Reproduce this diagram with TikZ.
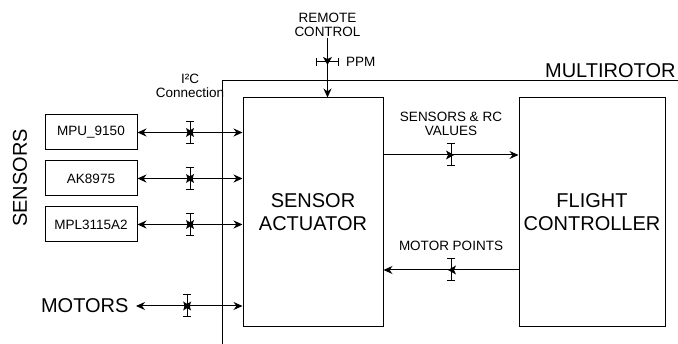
\documentclass[tikz,border=0pt]{standalone}
\usepackage{fontspec}
\setmainfont{Liberation Sans}
\usetikzlibrary{arrows.meta,positioning,decorations.markings}

\begin{document}
\begin{tikzpicture}[
    x=1pt, y=-1pt,
    >={Stealth[length=9pt,width=8pt]},
    line width=1pt,
    block/.style={draw, minimum width=140pt, minimum height=229pt, inner sep=0pt, align=center, font=\fontsize{20}{23}\selectfont},
    smallblock/.style={draw, minimum width=92pt, minimum height=35pt, inner sep=0pt, font=\fontsize{13.5}{14}\selectfont},
    lbl/.style={align=center, inner sep=1pt, font=\fontsize{13.5}{14}\selectfont},
    biglbl/.style={inner sep=1pt, font=\fontsize{20}{23}\selectfont},
    onebar/.style={postaction={decorate}, decoration={markings, mark=at position #1 with {
        \draw[-] (0pt,-11pt) -- (0pt,11pt) (-4pt,-11pt) -- (4pt,-11pt) (-4pt,11pt) -- (4pt,11pt);
        \fill (3pt,0pt) -- (-5pt,4.5pt) -- (-3pt,0pt) -- (-5pt,-4.5pt) -- cycle;}}},
    onebar/.default=0.5,
    twobar/.style={postaction={decorate}, decoration={markings, mark=at position #1 with {
        \draw[-] (0pt,-11pt) -- (0pt,11pt) (-4pt,-11pt) -- (4pt,-11pt) (-4pt,11pt) -- (4pt,11pt);
        \fill (3.5pt,0pt) -- (-4pt,4.5pt) -- (-2.5pt,0pt) -- (-4pt,-4.5pt) -- cycle;
        \fill (-3.5pt,0pt) -- (4pt,4.5pt) -- (2.5pt,0pt) -- (4pt,-4.5pt) -- cycle;}}},
    twobar/.default=0.5
  ]
    \useasboundingbox (0,0) rectangle (678,344);

    % multirotor frame
    \draw (222,344) -- (222,80.5) -- (678,80.5);
    \node[biglbl, anchor=south east] (multi) at (677,79) {MULTIROTOR};

    \node[block] (act) at (313,212.5) {SENSOR\\ACTUATOR};
    \node[block, minimum width=146pt] (fc) at (592,212.5) {FLIGHT\\CONTROLLER};

    \node[smallblock] (mpu) at (91,132.5) {MPU\_9150};
    \node[smallblock] (ak) at (91,178.5) {AK8975};
    \node[smallblock] (mpl) at (91,224.5) {MPL3115A2};
    \node[biglbl, anchor=east, inner xsep=7pt] (motors) at (136,306) {MOTORS};
    \node[biglbl, rotate=90] (sensors) at (20,178) {SENSORS};

    \node[lbl] (i2c) at (190,86) {I²C\\Connection};
    \node[lbl] (rc) at (327.5,25) {REMOTE\\CONTROL};

    \draw[<->, twobar] (mpu.east) -- (mpu.east -| act.west);
    \draw[<->, twobar] (ak.east) -- (ak.east -| act.west);
    \draw[<->, twobar] (mpl.east) -- (mpl.east -| act.west);
    \draw[<->, twobar=0.48] (motors.east) -- (motors.east -| act.west);
    \draw[->, onebar=0.4] (rc.south) -- (rc.south |- act.north) node[pos=0.4, right=17pt, lbl]{PPM};
    \draw[->, onebar] ([yshift=57.5pt]act.east) -- node[above=18pt, lbl]{SENSORS \& RC\\VALUES} ([yshift=57.5pt]fc.west);
    \draw[->, onebar] ([yshift=-57.5pt]fc.west) -- node[above=18pt, lbl]{MOTOR POINTS} ([yshift=-57.5pt]act.east);
  \end{tikzpicture}
\end{document}
